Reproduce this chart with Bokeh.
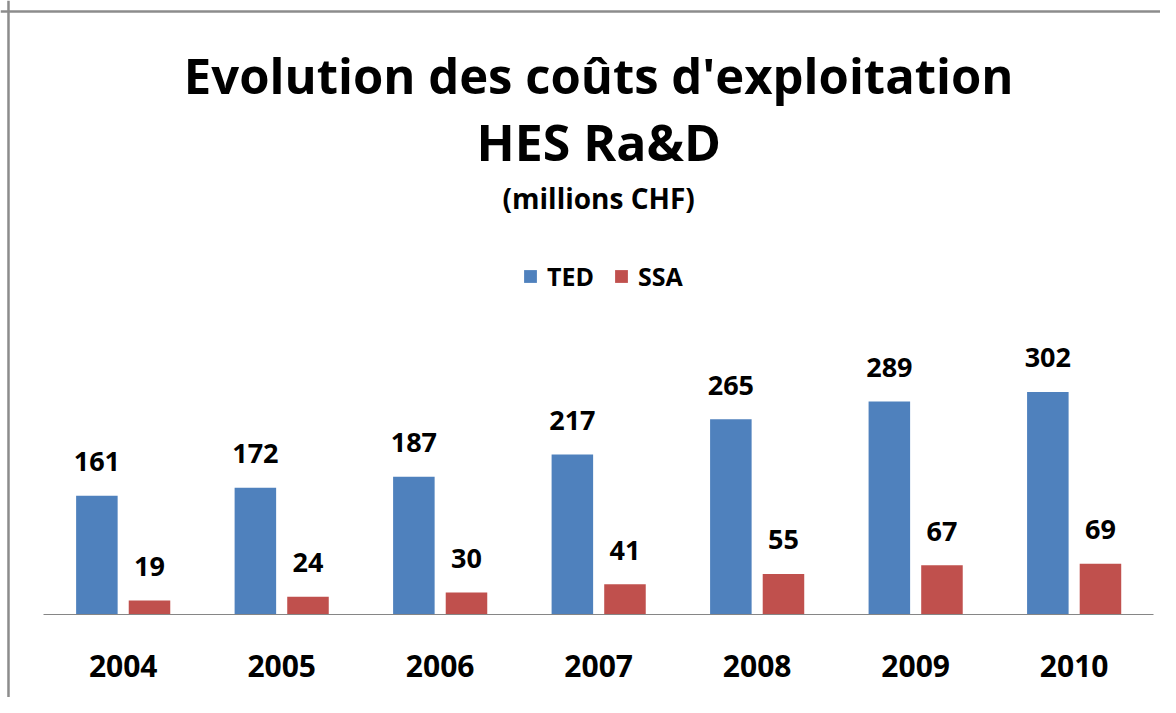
from bokeh.plotting import figure
from bokeh.models import (ColumnDataSource, Legend, LegendItem, Label, Range1d,
                          FixedTicker, Span)
from bokeh.transform import dodge
from bokeh.core.properties import value
from bokeh.embed import file_html
from bokeh.resources import INLINE

years = ["2004", "2005", "2006", "2007", "2008", "2009", "2010"]
ted = [161, 172, 187, 217, 265, 289, 302]
ssa = [19, 24, 30, 41, 55, 67, 69]

title_lines = ["Evolution des coûts d'exploitation", "HES Ra&D", "(millions CHF)"]
series_names = ["TED", "SSA"]

FONT = "Open Sans"
BLUE = "#4F81BD"
RED = "#C0504D"
GRAY = "#8c8c8c"

idx = list(range(len(years)))
src = ColumnDataSource(dict(
    idx=idx, ted=ted, ssa=ssa,
    ted_txt=[str(v) for v in ted], ssa_txt=[str(v) for v in ssa],
))

p = figure(
    x_range=Range1d(-0.7741, 6.5448), y_range=Range1d(-112.6, 833.1),
    width=1160, height=697, output_backend="svg", toolbar_location=None,
    y_axis_location=None, min_border=0,
)
p.outline_line_color = None
p.xgrid.visible = False
p.ygrid.visible = False

r1 = p.vbar(x=dodge("idx", -0.166), top="ted", width=0.262,
            source=src, fill_color=BLUE, line_color=None)
r2 = p.vbar(x=dodge("idx", 0.166), top="ssa", width=0.262,
            source=src, fill_color=RED, line_color=None)

for xo, col in [(-0.166, "ted"), (0.166, "ssa")]:
    p.text(x=dodge("idx", xo), y=col, text=col + "_txt", source=src,
           y_offset=-34, text_align="center", text_baseline="alphabetic",
           text_font=value(FONT), text_font_style="bold", text_font_size="27px",
           text_color="#000000")

ax = p.xaxis[0]
ax.fixed_location = 0
ax.bounds = (-0.5, 6.5)
ax.ticker = FixedTicker(ticks=idx)
ax.major_label_overrides = {i: y for i, y in zip(idx, years)}
ax.axis_line_color = "#868686"
ax.axis_line_width = 1
ax.major_tick_line_color = None
ax.minor_tick_line_color = None
ax.major_label_text_font = FONT
ax.major_label_text_font_style = "bold"
ax.major_label_text_font_size = "30px"
ax.major_label_text_color = "#000000"
ax.major_label_standoff = 34

legend = Legend(
    items=[LegendItem(label=series_names[0], renderers=[r1]),
           LegendItem(label=series_names[1], renderers=[r2])],
    orientation="horizontal", location=(522, 404),
    glyph_width=16, glyph_height=16, label_standoff=9, spacing=19,
    label_text_font=FONT, label_text_font_style="bold", label_text_font_size="25px",
    label_text_color="#000000", border_line_color=None, background_fill_alpha=0,
    padding=0, margin=0,
)
p.add_layout(legend, "center")

for txt, sz, yv in [(title_lines[0], "49px", 731.4), (title_lines[1], "50px", 640.6),
                    (title_lines[2], "28px", 564.8)]:
    p.add_layout(Label(x=3, y=yv, text=txt, text_align="center", text_baseline="alphabetic",
                       text_font=FONT, text_font_style="bold", text_font_size=sz,
                       text_color="#000000"))

# chart-area border (left and top edges visible in the reference)
p.add_layout(Span(location=-0.7237, dimension="height", line_color=GRAY, line_width=2.5))
p.add_layout(Span(location=818.2, dimension="width", line_color=GRAY, line_width=2.5))

open("out.html", "w").write(file_html(p, INLINE))
